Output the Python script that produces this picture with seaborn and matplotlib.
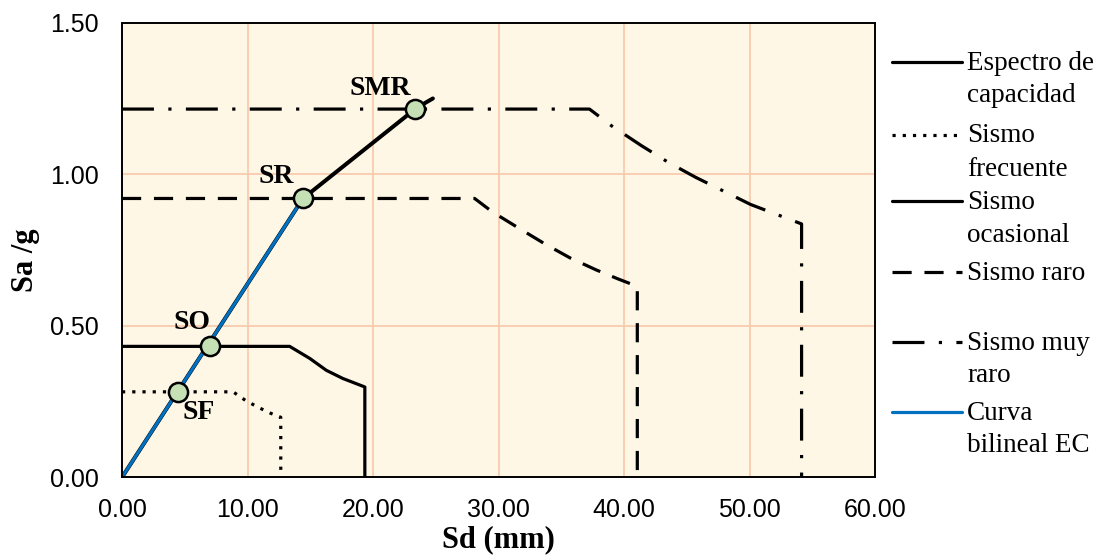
import numpy as np
import pandas as pd
import matplotlib.pyplot as plt
import seaborn as sns
from matplotlib.lines import Line2D

# Espectro de capacidad
sd_cap = [0.0, 14.42, 22.6, 23.31, 24.77]
sa_cap = [0.0, 0.92, 1.19, 1.215, 1.25]

# Sismo frecuente
sd_frec = [0.0, 8.85, 9.9, 11.0, 11.8, 12.65, 12.65]
sa_frec = [0.282, 0.282, 0.252, 0.228, 0.212, 0.198, 0.0]

# Sismo ocasional
sd_ocas = [0.0, 13.36, 14.97, 16.28, 17.6, 19.35, 19.35]
sa_ocas = [0.432, 0.432, 0.392, 0.353, 0.326, 0.298, 0.0]

# Sismo raro
sd_raro = [0.0, 28.1, 29.5, 31.7, 33.7, 35.7, 37.8, 39.5, 41.06, 41.06]
sa_raro = [0.92, 0.92, 0.876, 0.82, 0.77, 0.724, 0.684, 0.655, 0.63, 0.0]

# Sismo muy raro
sd_mraro = [0.0, 37.25, 39.0, 41.4, 43.5, 45.7, 48.0, 50.1, 52.0, 54.15, 54.15]
sa_mraro = [1.215, 1.215, 1.16, 1.094, 1.04, 0.99, 0.943, 0.9, 0.87, 0.836, 0.0]

# Curva bilineal EC
sd_bil = [0.0, 14.42]
sa_bil = [0.0, 0.92]

# Puntos de desempeño
pt_names = ["SF", "SO", "SR", "SMR"]
pt_sd = [4.47, 7.0, 14.42, 23.31]
pt_sa = [0.282, 0.432, 0.92, 1.215]
pt_offsets = [(15, -15), (-13, 17), (-19, 16), (-25, 15)]

x_ticks = [0, 10, 20, 30, 40, 50, 60]
y_ticks = [0.0, 0.5, 1.0, 1.5]

legend_labels = ["Espectro de\ncapacidad", "Sismo\nfrecuente", "Sismo\nocasional",
                 "Sismo raro", "Sismo muy\nraro", "Curva\nbilineal EC"]

sns.set_style("white")
plt.rcParams.update({"text.color": "black", "axes.labelcolor": "black",
                     "xtick.color": "black", "ytick.color": "black"})
serif = ["Liberation Serif", "DejaVu Serif"]
sans = ["Liberation Sans", "DejaVu Sans"]

W, H = 1105, 555
fig = plt.figure(figsize=(W / 100, H / 100), dpi=100)
ax = fig.add_axes([122 / W, 1 - 477.3 / H, (875 - 122) / W, (477.3 - 22.7) / H])
ax.set_facecolor("#FEF7E6")

lw = 2.3
st_frec = (0, (1, 2.2))
st_raro = (0, (6, 4))
st_mraro = (0, (10, 4.5, 1, 4.5))

sns.lineplot(x=sd_frec, y=sa_frec, sort=False, estimator=None, ax=ax,
             color="black", lw=lw, linestyle=st_frec, zorder=3)
sns.lineplot(x=sd_ocas, y=sa_ocas, sort=False, estimator=None, ax=ax,
             color="black", lw=lw, zorder=3)
sns.lineplot(x=sd_raro, y=sa_raro, sort=False, estimator=None, ax=ax,
             color="black", lw=lw, linestyle=st_raro, zorder=3)
sns.lineplot(x=sd_mraro, y=sa_mraro, sort=False, estimator=None, ax=ax,
             color="black", lw=lw, linestyle=st_mraro, zorder=3)
sns.lineplot(x=sd_cap, y=sa_cap, sort=False, estimator=None, ax=ax,
             color="black", lw=lw + 0.6, zorder=4)
sns.lineplot(x=sd_bil, y=sa_bil, sort=False, estimator=None, ax=ax,
             color="#0070C0", lw=lw, zorder=5)
sns.scatterplot(x=pt_sd, y=pt_sa, ax=ax, s=190, color="#C5E0B4",
                edgecolor="black", linewidth=1.8, zorder=6)

for name, x, y, off in zip(pt_names, pt_sd, pt_sa, pt_offsets):
    ax.annotate(name, (x, y), xytext=off, textcoords="offset points",
                ha="center", va="center", fontsize=20, fontweight="bold",
                family=serif, color="black", zorder=7)

ax.set_xlim(0, 60)
ax.set_ylim(0, 1.5)
ax.set_xticks(x_ticks)
ax.set_yticks(y_ticks)
ax.set_xticklabels([f"{v:.2f}" for v in x_ticks], family=sans, fontsize=18)
ax.set_yticklabels([f"{v:.2f}" for v in y_ticks], family=sans, fontsize=18)
ax.tick_params(axis="both", length=0)
ax.tick_params(axis="x", pad=15)
ax.tick_params(axis="y", pad=17)
ax.grid(True, color="#F8CBAD", lw=1.3)
ax.set_axisbelow(True)
for s in ax.spines.values():
    s.set_color("black")
    s.set_linewidth(1.4)
    s.set_zorder(8)

ax.set_xlabel("Sd (mm)", family=serif, fontsize=22, fontweight="bold", labelpad=2)
ax.set_ylabel("Sa /g", family=serif, fontsize=22, fontweight="bold", labelpad=7)
ax.yaxis.label.set_y(0.477)

# leyenda manual (a la Excel)
leg_styles = [
    dict(color="black", ls="-"),
    dict(color="black", ls=st_frec),
    dict(color="black", ls="-"),
    dict(color="black", ls=st_raro),
    dict(color="black", ls=st_mraro),
    dict(color="#0070C0", ls="-"),
]
leg_y = [62, 135, 201, 272, 342, 412]
for lab, sty, yp in zip(legend_labels, leg_styles, leg_y):
    yf = 1 - yp / H
    fig.add_artist(Line2D([892 / W, 962 / W], [yf, yf], lw=lw,
                          transform=fig.transFigure, **sty))
    for i, part in enumerate(lab.split("\n")):
        fig.text(967 / W, 1 - (yp + 1 + i * 33) / H, part, family=serif,
                 fontsize=19.5, va="center", ha="left", color="black")

fig.savefig("out.png", dpi=100)
